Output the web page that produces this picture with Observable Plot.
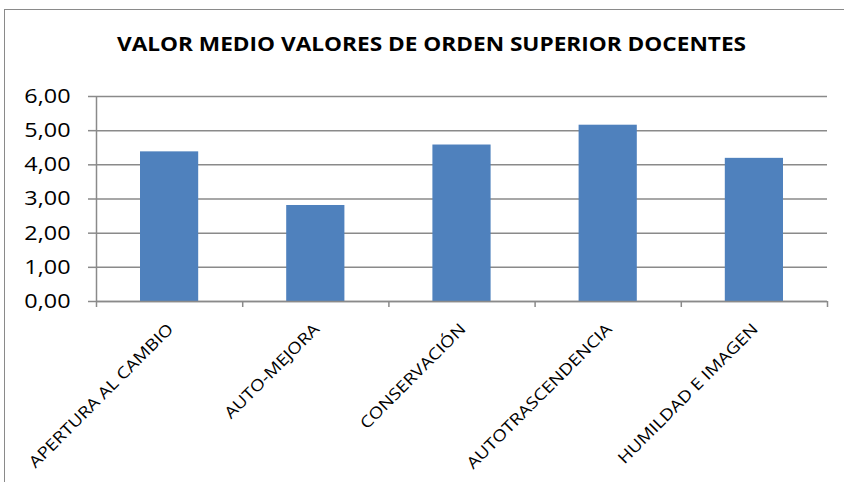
<!DOCTYPE html>
<html>
<head>
<meta charset="utf-8">
<script src="https://cdn.jsdelivr.net/npm/d3@7"></script>
<script src="https://cdn.jsdelivr.net/npm/@observablehq/plot@0.6"></script>
<style>
  html, body { margin: 0; padding: 0; background: #fff; }
  #wrap { position: relative; width: 844px; height: 482px; overflow: hidden; font-family: "Open Sans", sans-serif; }
  #frame { position: absolute; left: 4px; top: 9px; width: 900px; height: 600px; border: 1.5px solid #8a8a8a; box-sizing: border-box; }
  #title { position: absolute; left: 0; width: 863px; top: 30px; text-align: center; font-weight: bold; font-size: 19.5px; color: #000; white-space: nowrap; transform: scaleX(1.16); transform-origin: 431.5px 50%; }
  #chart { position: absolute; left: 0; top: 0; }
</style>
</head>
<body>
<div id="wrap">
  <div id="frame"></div>
  <div id="title">VALOR MEDIO VALORES DE ORDEN SUPERIOR DOCENTES</div>
  <div id="chart"></div>
</div>
<script>
const categories = ["APERTURA AL CAMBIO", "AUTO-MEJORA", "CONSERVACIÓN", "AUTOTRASCENDENCIA", "HUMILDAD E IMAGEN"];
const values = [4.38, 2.81, 4.58, 5.16, 4.19];
const yTicks = [0, 1, 2, 3, 4, 5, 6];

const data = categories.map((c, i) => ({cat: c, i, value: values[i]}));
const boundaries = d3.range(categories.length + 1);

const plot = Plot.plot({
  width: 844,
  height: 482,
  marginTop: 96,
  marginBottom: 181,
  marginLeft: 96,
  marginRight: 17,
  style: {fontFamily: "'Open Sans', sans-serif", background: "transparent", overflow: "visible"},
  x: {domain: [0, categories.length], axis: null},
  y: {domain: [0, 6], axis: null},
  marks: [
    Plot.gridY(yTicks, {stroke: "#8a8a8a", strokeOpacity: 1, strokeWidth: 1.5}),
    Plot.axisY(yTicks, {label: null, tickSize: 8, tickPadding: 18, stroke: "#8a8a8a", strokeWidth: 1.5, fontSize: 20, fill: "#000",
      tickFormat: d => d.toFixed(2).replace(".", ",")}),
    Plot.axisX(boundaries, {label: null, tickSize: 6, stroke: "#8a8a8a", strokeWidth: 1.5, tickFormat: () => ""}),
    Plot.rectY(data, {x1: "i", x2: d => d.i + 1, y: "value", fill: "#4F81BD", insetLeft: 44, insetRight: 44}),
    Plot.ruleY([0], {stroke: "#8a8a8a", strokeWidth: 1.5}),
    Plot.ruleX([0], {stroke: "#8a8a8a", strokeWidth: 1.5}),
    Plot.text(data, {x: d => d.i + 0.5, y: 0, text: "cat", rotate: -45, textAnchor: "end", dx: 1, dy: 25, fontSize: 16, fill: "#000"})
  ]
});
d3.select(plot).selectAll("text").each(function () {
  const t = this.getAttribute("transform");
  if (t) this.setAttribute("transform", t + " scale(1.17,1)");
});
document.getElementById("chart").appendChild(plot);
</script>
</body>
</html>
